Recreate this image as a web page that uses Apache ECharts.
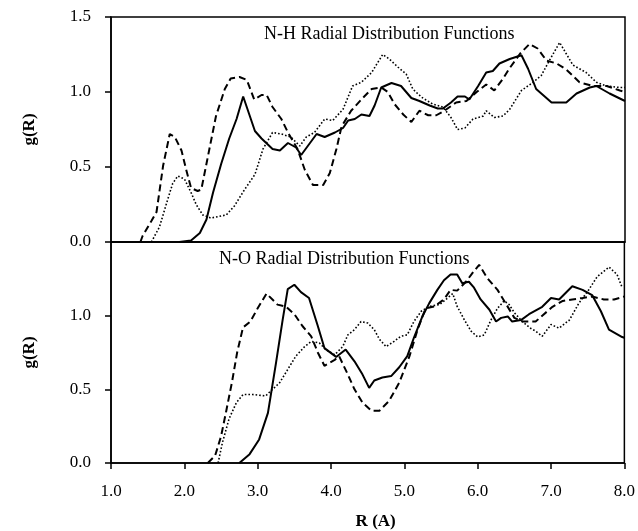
<!DOCTYPE html>
<html>
<head>
<meta charset="utf-8">
<script src="https://cdn.jsdelivr.net/npm/echarts@6/dist/echarts.min.js"></script>
<style>
  html, body { margin: 0; padding: 0; background: #fff; }
  #main { width: 638px; height: 531px; }
</style>
</head>
<body>
<div id="main"></div>
<script>
// N-H panel
const nhSolidR = [1.93, 2.09, 2.21, 2.30, 2.39, 2.50, 2.61, 2.71, 2.80, 2.96, 3.05, 3.20, 3.30, 3.41, 3.52, 3.59, 3.68, 3.80, 3.91, 4.05, 4.16, 4.23, 4.32, 4.41, 4.52, 4.59, 4.68, 4.82, 4.95, 5.09, 5.20, 5.34, 5.45, 5.52, 5.63, 5.72, 5.82, 5.88, 6.00, 6.11, 6.20, 6.29, 6.43, 6.59, 6.68, 6.79, 7.00, 7.20, 7.34, 7.52, 7.61, 7.79, 8.00];
const nhSolidG = [0, 0.01, 0.06, 0.15, 0.33, 0.52, 0.69, 0.82, 0.97, 0.74, 0.69, 0.62, 0.61, 0.66, 0.63, 0.58, 0.64, 0.72, 0.70, 0.73, 0.76, 0.81, 0.82, 0.85, 0.84, 0.91, 1.03, 1.06, 1.04, 0.96, 0.94, 0.91, 0.89, 0.89, 0.93, 0.97, 0.97, 0.95, 1.04, 1.13, 1.14, 1.19, 1.22, 1.245, 1.155, 1.02, 0.93, 0.93, 0.99, 1.03, 1.04, 0.99, 0.94];

const nhDashR = [1.40, 1.43, 1.55, 1.62, 1.71, 1.80, 1.87, 1.96, 2.02, 2.09, 2.18, 2.23, 2.34, 2.43, 2.55, 2.63, 2.75, 2.85, 2.95, 3.05, 3.12, 3.20, 3.32, 3.41, 3.54, 3.64, 3.75, 3.89, 3.98, 4.07, 4.14, 4.27, 4.41, 4.55, 4.68, 4.77, 4.86, 4.98, 5.09, 5.20, 5.32, 5.43, 5.54, 5.70, 5.84, 5.98, 6.11, 6.22, 6.34, 6.43, 6.57, 6.70, 6.81, 6.93, 7.07, 7.20, 7.38, 7.56, 7.75, 7.93, 8.00];
const nhDashG = [0, 0.04, 0.14, 0.20, 0.51, 0.72, 0.70, 0.61, 0.49, 0.36, 0.34, 0.35, 0.62, 0.84, 1.02, 1.09, 1.10, 1.08, 0.95, 0.98, 0.98, 0.90, 0.82, 0.73, 0.62, 0.48, 0.38, 0.38, 0.46, 0.62, 0.77, 0.875, 0.95, 1.02, 1.03, 1.00, 0.92, 0.85, 0.80, 0.875, 0.845, 0.845, 0.875, 0.93, 0.94, 1.00, 1.05, 1.01, 1.09, 1.16, 1.255, 1.32, 1.29, 1.21, 1.19, 1.15, 1.065, 1.04, 1.04, 1.01, 1.00];

const nhDotR = [1.55, 1.66, 1.77, 1.84, 1.91, 2.00, 2.09, 2.16, 2.25, 2.36, 2.57, 2.68, 2.82, 2.96, 3.07, 3.20, 3.32, 3.45, 3.57, 3.66, 3.77, 3.91, 4.02, 4.16, 4.29, 4.41, 4.55, 4.70, 4.79, 4.91, 5.02, 5.11, 5.23, 5.38, 5.52, 5.63, 5.72, 5.82, 5.93, 6.07, 6.11, 6.22, 6.34, 6.43, 6.59, 6.75, 6.86, 6.97, 7.11, 7.20, 7.29, 7.47, 7.61, 7.75, 7.93, 8.00];
const nhDotG = [0, 0.10, 0.28, 0.39, 0.44, 0.42, 0.33, 0.25, 0.18, 0.16, 0.18, 0.24, 0.35, 0.45, 0.62, 0.73, 0.72, 0.70, 0.64, 0.70, 0.73, 0.82, 0.81, 0.885, 1.04, 1.065, 1.13, 1.25, 1.22, 1.165, 1.12, 1.02, 0.965, 0.92, 0.90, 0.83, 0.75, 0.76, 0.82, 0.84, 0.875, 0.83, 0.84, 0.885, 1.01, 1.065, 1.11, 1.21, 1.33, 1.255, 1.18, 1.13, 1.065, 1.04, 1.03, 1.03];

// N-O panel
const noSolidR = [2.75, 2.89, 3.02, 3.14, 3.25, 3.34, 3.41, 3.50, 3.59, 3.70, 3.82, 3.91, 4.07, 4.20, 4.32, 4.43, 4.52, 4.59, 4.70, 4.82, 4.93, 5.04, 5.13, 5.25, 5.34, 5.45, 5.54, 5.63, 5.72, 5.79, 5.88, 5.95, 6.04, 6.16, 6.25, 6.32, 6.41, 6.47, 6.59, 6.70, 6.88, 7.00, 7.11, 7.29, 7.43, 7.56, 7.68, 7.79, 7.97, 8.00];
const noSolidG = [0, 0.06, 0.16, 0.34, 0.68, 0.97, 1.18, 1.21, 1.16, 1.12, 0.93, 0.78, 0.72, 0.77, 0.69, 0.60, 0.51, 0.56, 0.58, 0.59, 0.65, 0.725, 0.85, 1.00, 1.085, 1.175, 1.24, 1.28, 1.28, 1.22, 1.23, 1.19, 1.11, 1.04, 0.96, 0.985, 0.995, 0.96, 0.97, 1.01, 1.06, 1.12, 1.11, 1.20, 1.175, 1.14, 1.03, 0.905, 0.855, 0.85];

const noDashR = [2.32, 2.42, 2.50, 2.57, 2.65, 2.72, 2.80, 2.90, 3.00, 3.12, 3.27, 3.39, 3.50, 3.61, 3.73, 3.82, 3.91, 4.05, 4.11, 4.23, 4.32, 4.43, 4.55, 4.66, 4.79, 4.93, 5.07, 5.18, 5.29, 5.41, 5.54, 5.63, 5.72, 5.84, 5.93, 6.02, 6.13, 6.27, 6.38, 6.50, 6.61, 6.79, 6.88, 7.02, 7.16, 7.29, 7.43, 7.56, 7.72, 7.86, 8.00];
const noDashG = [0, 0.05, 0.18, 0.35, 0.55, 0.75, 0.92, 0.96, 1.05, 1.15, 1.075, 1.06, 1.01, 0.93, 0.86, 0.75, 0.66, 0.70, 0.725, 0.60, 0.50, 0.41, 0.355, 0.355, 0.42, 0.545, 0.725, 0.905, 1.05, 1.063, 1.11, 1.175, 1.17, 1.23, 1.29, 1.345, 1.255, 1.175, 1.085, 0.985, 0.96, 0.96, 1.00, 1.06, 1.10, 1.11, 1.12, 1.13, 1.11, 1.11, 1.13];

const noDotR = [2.46, 2.52, 2.61, 2.71, 2.80, 2.93, 3.11, 3.16, 3.30, 3.41, 3.52, 3.64, 3.73, 3.84, 3.93, 4.05, 4.16, 4.23, 4.32, 4.41, 4.50, 4.59, 4.66, 4.75, 4.86, 4.95, 5.04, 5.13, 5.23, 5.34, 5.48, 5.59, 5.66, 5.72, 5.82, 5.91, 6.00, 6.09, 6.18, 6.27, 6.36, 6.43, 6.50, 6.61, 6.72, 6.79, 6.88, 7.00, 7.11, 7.25, 7.38, 7.50, 7.63, 7.79, 7.90, 7.97];
const noDotG = [0, 0.14, 0.30, 0.41, 0.465, 0.465, 0.455, 0.48, 0.545, 0.635, 0.725, 0.79, 0.825, 0.815, 0.77, 0.735, 0.79, 0.87, 0.905, 0.96, 0.95, 0.905, 0.84, 0.79, 0.825, 0.86, 0.87, 0.96, 1.03, 1.063, 1.075, 1.12, 1.15, 1.063, 0.97, 0.895, 0.855, 0.87, 0.97, 1.05, 1.10, 1.075, 1.02, 0.96, 0.915, 0.895, 0.86, 0.94, 0.915, 0.97, 1.085, 1.165, 1.265, 1.33, 1.28, 1.19];

const panelTitles = ['N-H Radial Distribution Functions', 'N-O Radial Distribution Functions'];

const font = 'Liberation Serif';
const zip = (xs, ys) => xs.map((x, i) => [x, ys[i]]);

const styles = {
    solid: { color: '#000', width: 2, type: 'solid' },
    dash: { color: '#000', width: 2, type: [7, 4] },
    dot: { color: '#000', width: 1.6, type: [1.6, 2] }
};

function line(name, xs, ys, style, idx) {
    return {
        name: name,
        type: 'line',
        xAxisIndex: idx,
        yAxisIndex: idx,
        data: zip(xs, ys),
        showSymbol: false,
        symbol: 'none',
        lineStyle: style,
        animation: false,
        z: 3
    };
}

function xAxisFor(idx, labels) {
    return {
        type: 'value',
        gridIndex: idx,
        min: 1,
        max: 8,
        interval: 1,
        axisLine: { show: true, onZero: false, lineStyle: { color: '#000', width: 1.5 } },
        axisTick: { show: labels, length: 6, lineStyle: { color: '#000', width: 1.5 } },
        axisLabel: {
            show: labels,
            margin: 20,
            color: '#000',
            fontFamily: font,
            fontSize: 17,
            formatter: v => v.toFixed(1)
        },
        splitLine: { show: false },
        name: labels ? 'R (A)' : '',
        nameLocation: 'middle',
        nameGap: 50,
        nameTextStyle: { color: '#000', fontFamily: font, fontSize: 17, fontWeight: 'bold', padding: [0, 0, 0, 16] }
    };
}

function yAxisFor(idx, showTop) {
    return {
        type: 'value',
        gridIndex: idx,
        min: 0,
        max: 1.5,
        interval: 0.5,
        axisLine: { show: true, lineStyle: { color: '#000', width: 1.5 } },
        axisTick: { show: true, length: 6, lineStyle: { color: '#000', width: 1.5 } },
        axisLabel: {
            color: '#000',
            fontFamily: font,
            fontSize: 17,
            margin: 20,
            formatter: v => (!showTop && v === 1.5) ? '' : v.toFixed(1)
        },
        splitLine: { show: false },
        name: 'g(R)',
        nameLocation: 'middle',
        nameGap: 73,
        nameRotate: 90,
        nameTextStyle: { color: '#000', fontFamily: font, fontSize: 17, fontWeight: 'bold' }
    };
}

const option = {
    backgroundColor: '#fff',
    animation: false,
    title: [
        { text: panelTitles[0], left: 259, top: 20, textStyle: { fontFamily: font, fontSize: 18, fontWeight: 'normal', color: '#000' } },
        { text: panelTitles[1], left: 214, top: 245, textStyle: { fontFamily: font, fontSize: 18, fontWeight: 'normal', color: '#000' } }
    ],
    grid: [
        { left: 111, right: 13, top: 17, height: 225, show: true, borderColor: '#000', borderWidth: 1.5, backgroundColor: 'transparent' },
        { left: 111, right: 13, top: 242, height: 222, show: true, borderColor: '#000', borderWidth: 1.5, backgroundColor: 'transparent' }
    ],
    xAxis: [xAxisFor(0, false), xAxisFor(1, true)],
    yAxis: [yAxisFor(0, true), yAxisFor(1, false)],
    series: [
        line('N-H solid', nhSolidR, nhSolidG, styles.solid, 0),
        line('N-H dashed', nhDashR, nhDashG, styles.dash, 0),
        line('N-H dotted', nhDotR, nhDotG, styles.dot, 0),
        line('N-O solid', noSolidR, noSolidG, styles.solid, 1),
        line('N-O dashed', noDashR, noDashG, styles.dash, 1),
        line('N-O dotted', noDotR, noDotG, styles.dot, 1)
    ]
};

const myChart = echarts.init(document.getElementById('main'));
myChart.setOption(option);
</script>
</body>
</html>
